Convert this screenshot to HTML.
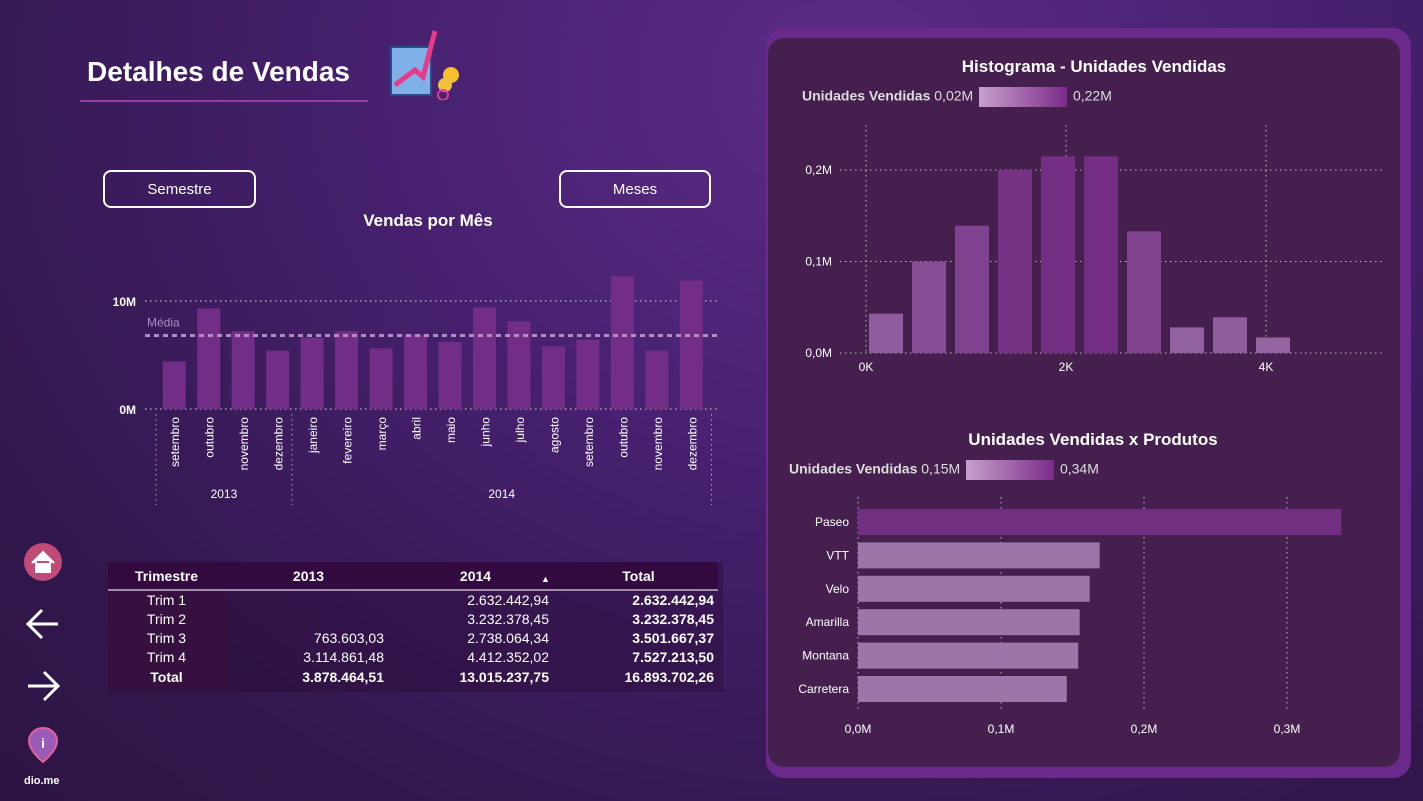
<!DOCTYPE html>
<html><head><meta charset="utf-8">
<style>
html,body{margin:0;padding:0;width:1423px;height:801px;overflow:hidden;font-family:"Liberation Sans","DejaVu Sans",sans-serif;}
body{background:radial-gradient(ellipse at 60% 10%,#5c2c88 0%,#46206e 40%,#32174c 80%,#2c1444 100%);position:relative;}
.abs{position:absolute;}
.btn{position:absolute;border:2px solid #fff;border-radius:8px;color:#fff;font-size:15px;text-align:center;line-height:36px;box-sizing:border-box;height:38px;}
table{border-collapse:collapse;}
</style></head>
<body>
<div class="abs" style="left:87px;top:56px;color:#fff;font-size:28px;font-weight:bold;">Detalhes de Vendas</div>
<div class="abs" style="left:80px;top:100px;width:288px;height:2px;background:#9a3aa8;"></div>
<svg class="abs" style="left:385px;top:25px" width="80" height="75">
<rect x="6" y="22" width="40" height="48" fill="#7fb0e8" stroke="#2a4a8a" stroke-width="2"/>
<polyline points="10,60 30,45 38,52 50,6" fill="none" stroke="#e83a8a" stroke-width="5"/>
<circle cx="66" cy="50" r="8" fill="#f5c030"/><circle cx="60" cy="60" r="7" fill="#f0c040"/>
<circle cx="58" cy="70" r="5" fill="none" stroke="#e83a8a" stroke-width="2"/>
</svg>
<div class="btn" style="left:103px;top:170px;width:153px;">Semestre</div>
<div class="btn" style="left:559px;top:170px;width:152px;">Meses</div>
<div class="abs" style="left:293px;top:211px;width:270px;text-align:center;color:#fff;font-size:17px;font-weight:bold;">Vendas por Mês</div>
<svg id="mchart" class="abs" style="left:0;top:0" width="740" height="520"></svg>

<div class="abs" style="left:108px;top:562px;width:615px;height:130px;background:rgba(40,10,50,0.35);"></div>
<table class="abs" style="left:108px;top:562px;width:610px;color:#fff;font-size:14px;">
<tr style="background:#330a40;height:28px;font-weight:bold;border-bottom:2px solid #a08aa8;">
<td style="width:115px;text-align:center;">Trimestre</td>
<td style="width:165px;text-align:center;">2013</td>
<td style="width:165px;text-align:center;">2014</td>
<td style="text-align:center;position:relative;">Total<span style="position:absolute;left:-18px;top:12px;font-size:9px;">▲</span></td></tr>
<tr style="height:19px"><td style="text-align:center;background:#36103f">Trim 1</td><td></td><td style="text-align:right;padding-right:10px">2.632.442,94</td><td style="text-align:right;font-weight:bold;padding-right:4px">2.632.442,94</td></tr>
<tr style="height:19px"><td style="text-align:center;background:#36103f">Trim 2</td><td></td><td style="text-align:right;padding-right:10px">3.232.378,45</td><td style="text-align:right;font-weight:bold;padding-right:4px">3.232.378,45</td></tr>
<tr style="height:19px"><td style="text-align:center;background:#36103f">Trim 3</td><td style="text-align:right;padding-right:8px">763.603,03</td><td style="text-align:right;padding-right:10px">2.738.064,34</td><td style="text-align:right;font-weight:bold;padding-right:4px">3.501.667,37</td></tr>
<tr style="height:19px"><td style="text-align:center;background:#36103f">Trim 4</td><td style="text-align:right;padding-right:8px">3.114.861,48</td><td style="text-align:right;padding-right:10px">4.412.352,02</td><td style="text-align:right;font-weight:bold;padding-right:4px">7.527.213,50</td></tr>
<tr style="height:22px;font-weight:bold"><td style="text-align:center;background:#36103f">Total</td><td style="text-align:right;padding-right:8px">3.878.464,51</td><td style="text-align:right;padding-right:10px">13.015.237,75</td><td style="text-align:right;padding-right:4px">16.893.702,26</td></tr>
</table>

<svg class="abs" style="left:24px;top:543px" width="40" height="38"><circle cx="19" cy="19" r="19" fill="#c04a78"/><path d="M8 20 L19 9 L30 20 M12 18 V29 H26 V18" fill="#fff" stroke="#fff" stroke-width="2"/></svg>
<svg class="abs" style="left:24px;top:606px" width="38" height="36"><path d="M34 18 H4 M18 4 L4 18 L18 32" fill="none" stroke="#fff" stroke-width="3"/></svg>
<svg class="abs" style="left:26px;top:668px" width="38" height="36"><path d="M2 18 H32 M18 4 L32 18 L18 32" fill="none" stroke="#fff" stroke-width="3"/></svg>
<svg class="abs" style="left:26px;top:726px" width="34" height="44"><path d="M17 2 C8 2 3 9 3 15 C3 25 17 36 17 36 C17 36 31 25 31 15 C31 9 26 2 17 2Z" fill="#9a5ab8" stroke="#e0609a" stroke-width="2"/><text x="17" y="22" fill="#fff" font-size="14" font-weight="bold" text-anchor="middle">i</text></svg>
<div class="abs" style="left:24px;top:775px;color:#fff;font-size:11px;font-weight:bold;">dio.me</div>

<div class="abs" style="left:766px;top:28px;width:645px;height:750px;border-radius:18px;background:#6a2a8c;"></div>
<div class="abs" style="left:768px;top:38px;width:632px;height:729px;border-radius:16px;background:#45204f;"></div>
<div class="abs" style="left:768px;top:57px;width:652px;text-align:center;color:#fff;font-size:17px;font-weight:bold;">Histograma - Unidades Vendidas</div>
<div class="abs" style="left:802px;top:87px;color:#ddd;font-size:14px;white-space:nowrap;"><b>Unidades Vendidas</b> 0,02M <span style="display:inline-block;width:88px;height:20px;vertical-align:middle;background:linear-gradient(90deg,#c7a0cc,#7a2c88);margin:0 2px;"></span> 0,22M</div>
<div class="abs" style="left:768px;top:430px;width:650px;text-align:center;color:#fff;font-size:17px;font-weight:bold;">Unidades Vendidas x Produtos</div>
<div class="abs" style="left:789px;top:460px;color:#ddd;font-size:14px;white-space:nowrap;"><b>Unidades Vendidas</b> 0,15M <span style="display:inline-block;width:88px;height:20px;vertical-align:middle;background:linear-gradient(90deg,#c7a0cc,#7a2c88);margin:0 2px;"></span> 0,34M</div>
<svg id="rchart" class="abs" style="left:0;top:0" width="1423" height="801"></svg>

<script>
const months=["setembro","outubro","novembro","dezembro","janeiro","fevereiro","março","abril","maio","junho","julho","agosto","setembro","outubro","novembro","dezembro"];
const sales=[4.4,9.3,7.2,5.4,6.6,7.2,5.6,6.9,6.2,9.4,8.1,5.8,6.4,12.3,5.4,11.9];
const salesTicks=[0,10];
const media=6.8;
const years=["2013","2014"];
const yearCounts=[4,12];
const histBins=[0.2,0.63,1.06,1.49,1.92,2.35,2.78,3.21,3.64,4.07];
const histVals=[0.043,0.1,0.139,0.2,0.215,0.215,0.133,0.028,0.039,0.017];
const histYTicks=[0,0.1,0.2];
const histXTicks=[0,2,4];
const products=["Paseo","VTT","Velo","Amarilla","Montana","Carretera"];
const prodVals=[0.338,0.169,0.162,0.155,0.154,0.146];
const prodTicks=[0,0.1,0.2,0.3];
const NS="http://www.w3.org/2000/svg";
function mk(svg,t,a,txt){const e=document.createElementNS(NS,t);for(const k in a)e.setAttribute(k,a[k]);if(txt!=null)e.textContent=txt;svg.appendChild(e);return e;}
function fmt(v,d){return v.toFixed(d).replace('.',',');}

// monthly
const m=document.getElementById('mchart');
const y0=409,ppu=10.8,x0=157,step=34.47;
const sy=v=>y0-v*ppu, sx=i=>x0+step*(i+0.5);
salesTicks.forEach(t=>{
 const g=mk(m,'line',{x1:145,x2:718,y1:sy(t),y2:sy(t),stroke:'#bbb','stroke-dasharray':'1.5 3.5','stroke-width':1.3});
 
 const l=mk(m,'text',{x:136,y:sy(t)+5,fill:'#fff','font-size':12,'font-weight':'bold','text-anchor':'end'},t+'M');
 
});
sales.forEach((v,i)=>{
 const r=mk(m,'rect',{x:sx(i)-11.5,y:sy(v),width:23,height:v*ppu,fill:'#722e86'});
 
 const t=mk(m,'text',{transform:`translate(${sx(i)+5},417) rotate(-90)`,fill:'#fff','font-size':12,'text-anchor':'end'},months[i]);
 
});
const ml=mk(m,'line',{x1:145,x2:718,y1:sy(media),y2:sy(media),stroke:'#b28cc0','stroke-width':3,'stroke-dasharray':'5 4'});

const mt=mk(m,'text',{x:147,y:sy(media)-9,fill:'#b28cc0','font-size':12},'Média');

let acc=0;
const edges=[x0-1];
yearCounts.forEach(c=>{acc+=c;edges.push(x0+step*acc+(acc===sales.length?3:-3));});
edges.forEach(x=>{
 const d=mk(m,'line',{x1:x,x2:x,y1:414,y2:505,stroke:'#aaa','stroke-dasharray':'1.5 3.5'});
 });
years.forEach((y,k)=>{const cx=(edges[k]+edges[k+1])/2;
 const t=mk(m,'text',{x:cx,y:498,fill:'#fff','font-size':12,'text-anchor':'middle'},y);
 });

// histogram
const r=document.getElementById('rchart');
const hy0=353,hpp=915,hx0=866,hppk=100;
const hy=v=>hy0-v*hpp,hx=k=>hx0+k*hppk;
function mix(t){const a=[0x93,0x63,0xa0],b=[0x72,0x2c,0x82];return `rgb(${a.map((c,i)=>Math.round(c+(b[i]-c)*t)).join(',')})`;}
histXTicks.forEach(k=>{const l=mk(r,'line',{x1:hx(k),x2:hx(k),y1:125,y2:353,stroke:'#bbb','stroke-dasharray':'1.5 3.5'});
 
 const t=mk(r,'text',{x:hx(k),y:371,fill:'#fff','font-size':12,'text-anchor':'middle'},k+'K');
 });
histYTicks.forEach(v=>{const l=mk(r,'line',{x1:840,x2:1385,y1:hy(v),y2:hy(v),stroke:'#bbb','stroke-dasharray':'1.5 3.5'});
 
 const t=mk(r,'text',{x:832,y:hy(v)+4,fill:'#fff','font-size':12,'text-anchor':'end'},fmt(v,1)+'M');
 });
histVals.forEach((v,i)=>{const b=mk(r,'rect',{x:hx(histBins[i])-17,y:hy(v),width:34,height:v*hpp,fill:mix((v-0.02)/0.2)});
 });

// products
const px0=858,pppm=1430,py0=522,pstep=33.4;
const px=v=>px0+v*pppm;
prodTicks.forEach(v=>{const l=mk(r,'line',{x1:px(v),x2:px(v),y1:497,y2:712,stroke:'#bbb','stroke-dasharray':'1.5 3.5'});
 
 const t=mk(r,'text',{x:px(v),y:733,fill:'#fff','font-size':12,'text-anchor':'middle'},fmt(v,1)+'M');
 });
prodVals.forEach((v,i)=>{const y=py0+pstep*i;
 const b=mk(r,'rect',{x:px0,y:y-13,width:v*pppm,height:26,fill:i==0?'#712f82':'#9d76a9'});
 
 const t=mk(r,'text',{x:849,y:y+4,fill:'#fff','font-size':12,'text-anchor':'end'},products[i]);
 });
</script>
</body></html>
